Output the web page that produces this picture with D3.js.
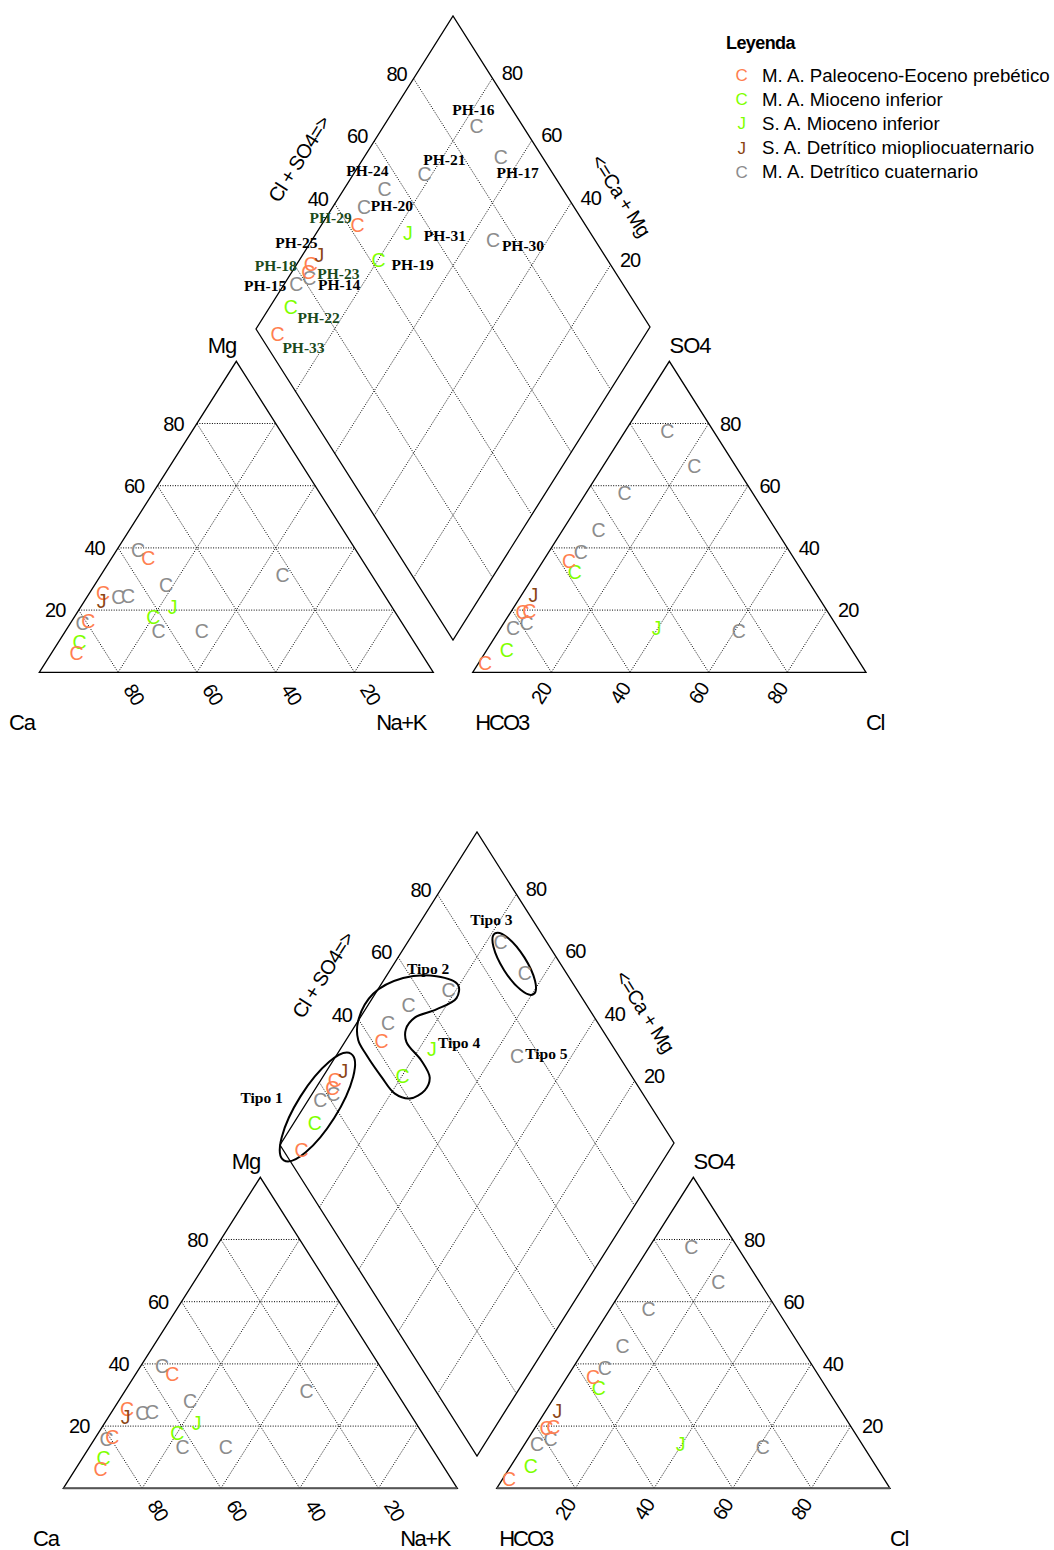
<!DOCTYPE html>
<html>
<head>
<meta charset="utf-8">
<script src="https://cdn.jsdelivr.net/npm/d3@7"></script>
<style>
  body { margin: 0; background: #fff; }
  svg { display: block; }
</style>
</head>
<body>
<svg id="chart" width="1054" height="1550"></svg>
<script>
// ---- Sample data (percent of meq/l) ----
const sampleIds = ["PH-14","PH-15","PH-16","PH-17","PH-18","PH-19","PH-20","PH-21",
                   "PH-22","PH-23","PH-24","PH-25","PH-29","PH-30","PH-31","PH-33"];
// index into the legend groups below
const sampleGroup = [4, 4, 4, 4, 0, 1, 4, 4, 1, 0, 4, 3, 0, 4, 2, 0];
// cations
const mgPct  = [39.3, 15.8, 13.1, 13.1, 25.4, 17.7, 24.1, 28.1, 9.8, 16.3, 24.5, 23.0, 36.7, 31.3, 21.1, 6.3];
const naKPct = [ 5.4,  3.1, 23.7, 34.7,  3.5, 20.1,  8.0, 18.1, 5.3,  4.3, 10.3,  4.3,  9.3, 46.1, 23.3, 6.3];
// anions
const so4Pct = [15.8, 14.1, 77.4, 66.3, 19.8, 32.3, 38.6, 57.6, 7.2, 19.2, 45.8, 24.9, 35.6, 13.1, 14.1, 2.9];
const clPct  = [ 5.8,  3.2, 10.8, 23.2,  4.5,  9.8,  8.2,  9.8, 5.1,  3.1,  9.1,  3.0,  6.7, 61.1, 39.7, 1.7];

// ---- Legend groups ----
const groupNames  = ["M. A. Paleoceno-Eoceno prebético", "M. A. Mioceno inferior",
                     "S. A. Mioceno inferior", "S. A. Detrítico miopliocuaternario",
                     "M. A. Detrítico cuaternario"];
const groupGlyphs = ["C", "C", "J", "J", "C"];
const groupColors = ["#ff7f50", "#7fff00", "#7fff00", "#8b4513", "#8c8c8c"];

// ---- Axis ticks ----
const tickValues = [20, 40, 60, 80];
const diamondLeftTicks = [40, 60, 80];

// ---- Water-type groupings (diamond coordinates: [Na+K %, Cl+SO4 %]) ----
const typeLabels = ["Tipo 1", "Tipo 2", "Tipo 3", "Tipo 4", "Tipo 5"];
const typeLabelAt = [[-12.3, 3.0], [9.5, 65.7], [17.7, 89.6], [29.1, 61.8], [53.2, 82.0]];
const tipo1Center = [3.45, 15.55];
const tipo3Center = [30.6, 88.3];
const tipo24Outline = [[0,39.7],[-0.5,47.8],[4.6,57.9],[12.8,66.6],[19.7,70.7],[21.4,68.2],
  [18.1,61.3],[13.9,54.5],[13.5,50.4],[15.7,48.5],[22.5,49.3],[27.3,48.7],[28.1,45.4],
  [25.6,40.3],[21.0,37.3],[15.0,36.6],[7.6,36.3],[3.1,36.6]];

// ---- Label styling for sample names ----
const darkGreenLabels = new Set(["PH-29","PH-18","PH-23","PH-22","PH-33"]);
const labelOffset = {
  "PH-16":[-3,-17], "PH-21":[20,-15], "PH-17":[17,16], "PH-24":[-17,-19], "PH-20":[28,-2],
  "PH-29":[-27,-8], "PH-31":[37,2], "PH-30":[30,5], "PH-25":[-23,-12], "PH-18":[-35,2],
  "PH-23":[30,1], "PH-19":[34,5], "PH-15":[-31,1], "PH-14":[30,6], "PH-22":[28,11], "PH-33":[26,13]
};

// ---- Geometry ----
const xCat = d3.scaleLinear().domain([0, 100]).range([39.3, 433.3]);
const xAn  = d3.scaleLinear().domain([0, 100]).range([472.7, 866]);
const yTri = d3.scaleLinear().domain([0, 100]).range([672.3, 361.3]);
// diamond: a = Na+K %, b = Cl+SO4 %
const dX  = d3.scaleLinear().domain([0, 200]).range([256, 650]);
const dYa = d3.scaleLinear().domain([0, 100]).range([0, 311]);
const dYb = d3.scaleLinear().domain([0, 100]).range([0, -313]);
const diamondLeftY = 329;

const cat  = (nak, mg) => [xCat(nak + mg / 2), yTri(mg)];
const an   = (cl, so4) => [xAn(cl + so4 / 2), yTri(so4)];
const diam = (a, b) => [dX(a + b), diamondLeftY + dYa(a) + dYb(b)];

const SANS = "'Liberation Sans', Arial, Helvetica, sans-serif";
const SERIF = "'Liberation Serif', 'Times New Roman', serif";
const slope = Math.atan2(yTri(0) - yTri(100), xCat(50) - xCat(0)) * 180 / Math.PI;

const svg = d3.select("#chart");
const lineGen = d3.line();

function gridLine(g, p, q) {
  g.append("path").attr("d", lineGen([p, q]))
    .attr("fill", "none").attr("stroke", "#000").attr("stroke-width", 1)
    .attr("stroke-dasharray", "1,1.5");
}

function label(g, txt, p, opts = {}) {
  return g.append("text")
    .attr("transform", `translate(${p[0]},${p[1]}) rotate(${opts.rotate || 0})`)
    .attr("text-anchor", "middle").attr("dy", "0.35em")
    .attr("font-family", opts.family || SANS)
    .attr("font-size", opts.size || 20)
    .attr("font-weight", opts.weight || "normal")
    .attr("letter-spacing", opts.ls != null ? opts.ls : -1)
    .attr("fill", opts.fill || "#000")
    .text(txt);
}

const add = (p, d) => [p[0] + d[0], p[1] + d[1]];

function drawPiper(g, opts) {
  const outline = (pts) => g.append("path").attr("d", lineGen(pts) + "Z")
    .attr("fill", "none").attr("stroke", "#000").attr("stroke-width", 1.3)
    .attr("stroke-linejoin", "miter");

  // --- dotted grids ---
  tickValues.forEach(v => {
    gridLine(g, cat(0, v), cat(100 - v, v));
    gridLine(g, cat(v, 0), cat(v, 100 - v));
    gridLine(g, cat(100 - v, 0), cat(0, 100 - v));
    gridLine(g, an(0, v), an(100 - v, v));
    gridLine(g, an(v, 0), an(v, 100 - v));
    gridLine(g, an(100 - v, 0), an(0, 100 - v));
    gridLine(g, diam(0, v), diam(100, v));
    gridLine(g, diam(v, 0), diam(v, 100));
  });

  // --- frames ---
  outline([cat(0, 0), cat(100, 0), cat(0, 100)]);
  outline([an(0, 0), an(100, 0), an(0, 100)]);
  outline([diam(0, 0), diam(100, 0), diam(100, 100), diam(0, 100)]);

  if (opts.heavyBase) {
    [[cat(0, 0), cat(100, 0)], [an(0, 0), an(100, 0)]].forEach(seg =>
      g.append("path").attr("d", lineGen(seg)).attr("stroke", "#555").attr("stroke-width", 2));
  }

  // --- tick labels ---
  tickValues.forEach(v => {
    label(g, v, add(cat(0, v), [-23.5, 0]));
    label(g, v, add(cat(100 - v, 0), [16, 22]), { rotate: slope });
    label(g, v, add(an(100 - v, v), [21.5, 0]));
    label(g, v, add(an(v, 0), [-10, 21]), { rotate: -slope });
    label(g, v, add(diam(100 - v, 100), [19.5, -5]));
  });
  diamondLeftTicks.forEach(v => label(g, v, add(diam(0, v), [-17, -5])));

  // --- corner and axis titles ---
  label(g, "Ca", add(cat(0, 0), [-17.3, 49.5]), { size: 22 });
  label(g, "Na+K", add(cat(100, 0), [-32.3, 49.5]), { size: 22, ls: -1.5 });
  label(g, "Mg", add(cat(0, 100), [-14.3, -16.3]), { size: 22 });
  label(g, "SO4", add(an(0, 100), [20.7, -16.3]), { size: 22 });
  label(g, "HCO3", add(an(0, 0), [29, 49.5]), { size: 22, ls: -2 });
  label(g, "Cl", add(an(100, 0), [9, 49.5]), { size: 22, ls: -1.5 });
  label(g, "Cl + SO4=>", [299, 159], { size: 20, rotate: -slope, ls: -0.8 });
  label(g, "<=Ca + Mg", [621, 195.5], { size: 20, rotate: slope, ls: -0.8 });

  // --- water-type groupings ---
  if (opts.types) {
    const edgeUp = Math.atan2(diam(0, 100)[1] - diam(0, 0)[1], diam(0, 100)[0] - diam(0, 0)[0]) * 180 / Math.PI;
    const edgeDown = Math.atan2(diam(100, 0)[1] - diam(0, 0)[1], diam(100, 0)[0] - diam(0, 0)[0]) * 180 / Math.PI;
    const c1 = diam(...tipo1Center);
    g.append("ellipse").attr("cx", 0).attr("cy", 0).attr("rx", 63).attr("ry", 20)
      .attr("transform", `translate(${c1[0]},${c1[1]}) rotate(${edgeUp})`)
      .attr("fill", "none").attr("stroke", "#000").attr("stroke-width", 2);
    const c3 = diam(...tipo3Center);
    g.append("ellipse").attr("cx", 0).attr("cy", 0).attr("rx", 36).attr("ry", 12)
      .attr("transform", `translate(${c3[0]},${c3[1]}) rotate(${edgeDown})`)
      .attr("fill", "none").attr("stroke", "#000").attr("stroke-width", 2);
    g.append("path")
      .attr("d", d3.line().curve(d3.curveCatmullRomClosed.alpha(0.5))(tipo24Outline.map(p => diam(p[0], p[1]))))
      .attr("fill", "none").attr("stroke", "#000").attr("stroke-width", 2);
    typeLabels.forEach((t, i) =>
      label(g, t, diam(...typeLabelAt[i]), { family: SERIF, weight: "bold", size: 15.5, ls: 0 }));
  }

  // --- samples ---
  const marks = (posFn) => g.append("g").selectAll("text").data(sampleIds).join("text")
    .attr("x", (d, i) => posFn(i)[0]).attr("y", (d, i) => posFn(i)[1])
    .attr("dy", "0.35em").attr("text-anchor", "middle")
    .attr("font-family", SANS).attr("font-size", 19.5)
    .attr("fill", (d, i) => groupColors[sampleGroup[i]])
    .text((d, i) => groupGlyphs[sampleGroup[i]]);

  marks(i => cat(naKPct[i], mgPct[i]));
  marks(i => an(clPct[i], so4Pct[i]));
  const dpos = i => diam(naKPct[i], clPct[i] + so4Pct[i]);
  marks(dpos);

  if (opts.names) {
    sampleIds.forEach((id, i) => {
      label(g, id, add(dpos(i), labelOffset[id]), {
        family: SERIF, weight: "bold", size: 15.5, ls: 0,
        fill: darkGreenLabels.has(id) ? "#1b4a1b" : "#000"
      });
    });
  }
}

drawPiper(svg.append("g"), { names: true });
drawPiper(svg.append("g").attr("transform", "translate(24,816)"), { types: true, heavyBase: true });

// ---- Legend ----
const legend = svg.append("g");
legend.append("text").attr("x", 726).attr("y", 43).attr("dy", "0.35em")
  .attr("font-family", SANS).attr("font-weight", "bold").attr("font-size", 18)
  .attr("letter-spacing", -0.6).text("Leyenda");
const rowY = d3.scaleLinear().domain([0, 4]).range([75, 171.8]);
groupNames.forEach((name, i) => {
  legend.append("text").attr("x", 741.7).attr("y", rowY(i)).attr("dy", "0.35em")
    .attr("text-anchor", "middle").attr("font-family", SANS).attr("font-size", 17)
    .attr("fill", groupColors[i]).text(groupGlyphs[i]);
  legend.append("text").attr("x", 762).attr("y", rowY(i)).attr("dy", "0.35em")
    .attr("font-family", SANS).attr("font-size", 18.7).attr("letter-spacing", 0)
    .attr("fill", "#000").text(name);
});
</script>
</body>
</html>
